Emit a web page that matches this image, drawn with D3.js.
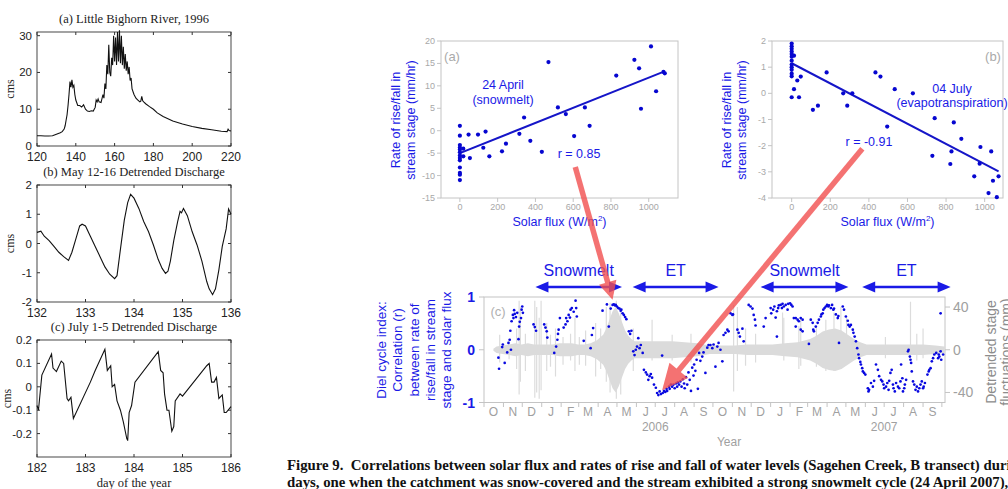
<!DOCTYPE html>
<html><head><meta charset="utf-8">
<script src="https://cdn.jsdelivr.net/npm/d3@7"></script>
<style>body{margin:0;background:#fff;} svg{display:block;}</style>
</head><body>
<svg id="c" width="1008" height="489"></svg>
<script>
// ---------- DATA ----------
// Left (a) Little Bighorn River 1996 discharge (cms)
const bhDay = [120,122,124,126,128,129,130,131,132,133,134,134.5,135,135.5,136,136.5,137,137.5,138,138.5,139,139.5,140,141,142,143,144,145,146,147,148,149,150,150.5,151,151.5,152,153,154,154.5,155,155.5,156,156.5,157,157.5,158,158.5,159,159.5,160,160.5,161,161.5,162,162.5,163,163.5,164,164.5,165,165.5,166,166.5,167,167.5,168,168.5,169,170,171,172,173,173.5,174,174.5,175,176,178,180,182,185,190,195,200,205,210,215,218,218.5,219,220];
const bhQ = [2.8,2.8,2.7,2.7,2.8,3.0,3.2,3.4,3.6,3.9,4.6,5.5,7,8.5,11,14,17.5,16,18,16,16.5,14,12.5,11,11,10.6,11.2,10,9.5,9.4,9.6,9.5,10.5,12.5,12,12.8,12,11.8,14,13,17,15.5,22,19.5,27.5,20,19,24,22,30,23,29.5,22,31,23,31.5,22.5,30,22,27,21,25,20.5,23,19.5,21.5,17.8,18.5,15.5,14,13,12.5,12,12.2,13.5,12.3,12,11.5,10.7,10,9,8,6.8,6,5.3,4.8,4.4,4.0,3.9,4.6,4.2,4.1];
// Left (b) May 12-16 detrended discharge
const mayDay = [132,132.08,132.15,132.25,132.35,132.45,132.55,132.65,132.72,132.8,132.88,132.93,133.0,133.1,133.2,133.3,133.4,133.5,133.6,133.65,133.72,133.8,133.87,133.93,134.0,134.1,134.2,134.3,134.4,134.5,134.58,134.65,134.7,134.75,134.82,134.9,134.95,134.98,135.02,135.1,135.2,135.3,135.4,135.5,135.55,135.62,135.68,135.75,135.82,135.9,135.95,136.0];
const mayQ = [0.38,0.42,0.25,0.1,-0.1,-0.3,-0.45,-0.58,-0.3,0.15,0.6,0.66,0.6,0.25,-0.1,-0.45,-0.8,-1.05,-1.2,-1.1,-0.2,0.8,1.4,1.68,1.55,1.2,0.75,0.4,-0.05,-0.55,-0.85,-1.02,-0.95,-0.6,0.1,0.75,1.1,1.05,1.2,0.95,0.4,-0.05,-0.6,-1.3,-1.55,-1.75,-1.55,-0.9,-0.1,0.5,1.18,1.0];
// Left (c) July 1-5 detrended discharge
const julDay = [182.0,182.03,182.1,182.3,182.33,182.4,182.5,182.55,182.62,182.65,182.7,182.75,183.1,183.2,183.4,183.45,183.52,183.55,183.6,183.65,183.72,183.78,183.85,183.87,183.9,183.95,184.02,184.5,184.55,184.6,184.63,184.68,184.72,184.78,184.82,184.85,184.95,185.0,185.5,185.55,185.6,185.65,185.7,185.75,185.82,185.86,185.9,186.0];
const julQ = [-0.08,-0.1,0.05,0.14,0.08,0.065,0.11,0.1,-0.05,-0.06,-0.045,-0.135,0.02,0.07,0.16,0.07,0.09,0.0,0.01,-0.06,-0.1,-0.15,-0.22,-0.23,-0.11,-0.08,0.02,0.15,0.07,0.06,-0.03,-0.1,-0.1,-0.19,-0.17,-0.06,-0.03,-0.04,0.09,0.1,0.02,0.02,0.04,-0.05,-0.035,-0.11,-0.11,-0.085];

// Scatter (a) 24 April (snowmelt)
const saX = [0,0,0,0,0,0,0,0,0,0,0,0,0,18,18,46,53,96,124,136,156,223,244,315,340,373,434,469,519,561,605,662,687,828,924,949,959,1012,1039,1078,1085];
const saY = [1.1,-1.1,-3.2,-3.75,-4.2,-4.8,-5.5,-6.1,-6.6,-8.2,-9.4,-9.8,-11.0,-4.0,-5.7,-0.85,-6.1,-0.85,-3.8,-0.2,-5.7,-4.6,-2.9,-0.7,2.95,-2.25,-4.7,15.3,5.2,3.7,-1.2,5.2,1.1,12.3,15.8,13.9,4.9,18.8,8.8,13.1,12.8];
const saFitX = [0,1070], saFitY = [-5,13];
const saYTicks = [20,15,10,5,0,-5,-10,-15];
// Scatter (b) 04 July (evapotranspiration)
const sbX = [0,0,0,0,0,0,0,0,0,0,0,0,12,0,12,29,47,38,110,136,181,267,288,314,434,460,495,534,628,729,741,828,822,840,879,946,978,974,1034,1043,1072,1020,1063];
const sbY = [1.9,1.8,1.7,1.6,1.5,1.4,1.25,1.1,1.0,0.9,0.75,0.65,1.44,-0.15,0.16,0.49,0.64,-0.15,-0.63,-0.47,0.8,0.0,-0.47,0.0,0.8,0.64,-1.27,0.16,0.0,-2.39,-0.95,-2.22,-2.7,-1.11,-1.74,-3.17,-2.05,-2.69,-2.22,-3.34,-3.17,-3.81,-3.97];
const sbFitX = [0,1072], sbFitY = [1.15,-2.98];
const sbYTicks = [2,1,0,-1,-2,-3,-4];
const fluxTicks = [0,200,400,600,800,1000];

// Panel (c): diel cycle index r, days since 2005-10-01
const rDay = [23,24,29,30,33,37,39,41,42,43,44,46,47,48,49,51,53,55,56,57,59,60,61,62,
  79,81,83,96,98,100,101,
  112,115,117,118,119,121,
  127,130,131,133,135,137,138,140,143,146,147,148,
  159,170,172,174,
  189,196,199,202,205,207,209,210,212,214,216,218,219,221,223,225,227,
  231,233,235,238,240,242,244,246,248,250,253,
  255,258,260,262,264,266,268,271,274,276,278,280,282,284,
  285,287,289,291,292,295,296,298,300,302,304,306,308,309,311,313,315,317,319,320,322,324,326,328,330,332,334,335,337,339,341,343,
  345,348,350,353,356,358,361,364,366,369,372,374,377,380,
  382,385,388,390,393,396,397,404,406,408,412,414,422,425,428,430,432,433,446,449,
  457,458,461,463,465,467,467,469,470,473,475,476,478,481,484,485,488,490,492,494,497,500,502,505,508,497,505,508,518,521,524,525,
  526,529,532,534,537,538,540,541,543,545,547,549,550,553,555,557,558,561,564,565,566,572,574,577,580,581,583,585,588,589,591,593,595,597,598,600,601,603,604,606,608,
  612,613,614,617,620,622,625,628,630,633,635,637,638,641,643,645,646,648,650,652,653,655,657,660,662,664,665,667,668,670,671,673,676,677,679,680,681,682,684,686,688,690,692,694,696,698,700,701,703,707,709,710,712,714,716,718,721,724,725,726,728,729,732,728];
const rVal = [-0.15,-0.36,0.05,0.1,-0.25,-0.05,0.13,0.19,0.36,0.0,0.54,0.66,0.6,0.75,0.68,0.62,0.7,0.2,0.44,0.53,0.6,0.76,0.82,0.7,
  0.48,0.43,0.36,0.48,0.42,0.35,0.23,
  -0.06,0.06,0.19,0.3,0.38,0.6,
  0.42,0.48,0.6,0.54,0.66,0.61,0.76,0.79,0.72,0.93,0.79,0.63,
  0.17,0.03,0.28,0.41,
  0.74,0.86,0.44,0.78,0.85,0.86,0.84,0.85,0.82,0.79,0.78,0.74,0.76,0.69,0.66,0.62,0.58,
  0.35,0.3,0.36,-0.03,-0.1,0.0,0.06,0.22,0.03,0.09,-0.06,
  -0.38,-0.43,-0.47,-0.57,-0.5,-0.46,-0.53,-0.66,-0.72,-0.82,-0.86,-0.79,-0.84,-0.11,
  -0.82,-0.78,-0.8,-0.74,-0.78,-0.7,-0.74,-0.66,-0.7,-0.66,-0.73,-0.64,-0.7,-0.62,-0.66,-0.6,-0.7,-0.56,-0.64,-0.73,-0.52,-0.66,-0.43,-0.57,-0.78,-0.34,-0.49,-0.28,-0.4,-0.19,-0.74,-0.06,
  -0.21,-0.13,-0.05,-0.44,0.04,0.09,0.09,0.03,0.1,-0.32,0.06,0.13,0.0,-0.22,
  0.28,0.32,0.38,0.35,0.69,0.66,0.67,0.38,0.32,0.25,0.4,0.16,0.85,0.82,0.78,0.66,0.57,0.46,0.44,0.6,
  0.79,0.69,0.76,0.82,0.61,0.25,0.73,0.79,0.84,0.85,0.79,0.87,0.82,0.85,0.76,0.87,0.88,0.85,0.82,0.6,0.6,0.57,0.54,0.6,0.57,0.44,0.38,0.35,0.11,0.57,0.51,0.38,
  0.35,0.44,0.51,0.57,0.63,0.67,0.69,0.76,0.79,0.82,0.85,0.82,0.84,0.79,0.85,0.76,0.78,0.67,0.6,0.64,0.13,0.82,0.76,0.63,0.55,0.47,0.44,0.47,0.38,0.32,0.25,0.16,0.03,-0.09,-0.16,-0.23,-0.28,-0.35,-0.41,-0.44,-0.47,
  -0.73,-0.79,-0.76,-0.63,-0.7,-0.59,-0.28,-0.38,-0.5,-0.57,-0.6,-0.66,-0.73,-0.7,-0.63,-0.76,-0.59,-0.44,-0.38,-0.66,-0.73,-0.79,-0.63,-0.7,-0.73,-0.6,-0.28,-0.54,-0.79,-0.73,-0.66,-0.57,-0.03,0.0,-0.13,-0.19,-0.25,-0.41,-0.6,-0.66,-0.76,-0.7,-0.79,-0.73,-0.66,-0.6,-0.73,-0.7,-0.63,-0.47,-0.41,-0.38,-0.35,-0.22,-0.16,-0.09,-0.06,-0.16,-0.09,-0.13,-0.03,-0.19,-0.09,0.69];
// Detrended stage fluctuation envelope (mm) and spikes [day, top, bottom]
const stageDay = [15,20,30,40,50,60,70,80,90,100,110,120,130,140,150,160,170,180,190,195,200,205,210,215,220,225,230,235,240,250,260,280,300,320,340,360,380,400,420,440,460,480,500,520,530,540,550,560,570,580,590,600,610,620,640,660,680,700,720,734];
const stageAmp = [1,3,4,5,6,5,6,5,5,5,5,6,6,6,5,5,6,9,14,20,28,36,40,34,26,18,13,10,8,8,8,8,8,7,6,4,4,4,5,5,5,6,7,10,13,17,19,20,18,14,10,7,5,5,5,5,5,5,4,3];
const stageSpikes = [[25,14,-12],[40,10,-9],[52,20,-18],[56,46,-42],[58,40,-30],[66,15,-20],[81,46,-45],[84,40,-40],[88,30,-46],[91,46,-38],[100,25,-20],[106,14,-16],[114,20,-25],[126,12,-14],[138,15,-10],[145,30,-20],[152,12,-14],[162,18,-15],[178,25,-25],[186,20,-18],[195,40,-30],[201,44,-40],[211,46,-46],[218,38,-42],[238,20,-20],[268,28,-10],[300,14,-10],[330,15,-12],[398,42,-39],[404,40,-20],[417,20,-15],[433,15,-12],[476,35,-5],[478,30,-10],[502,22,-18],[505,30,-15],[530,22,-16],[545,28,-20],[558,35,-20],[569,40,-15],[578,30,-12],[640,12,-8],[680,45,-3],[690,15,-10],[700,20,-8]];
const rTicks = [1,0,-1], mmTicks = [40,0,-40];
const seasonLabel = ["Snowmelt","ET","Snowmelt","ET"];
const seasonStart = [82,237,441,603];
const seasonEnd = [220,374,581,744];

// ---------- DRAWING ----------
const svg = d3.select('#c');
const SANS = "'Liberation Sans', Arial, Helvetica, sans-serif";
const SERIF = "'Liberation Serif', 'Times New Roman', serif";
const BLUE = '#1a1ae6';

function matlab(opt) {
  const g = svg.append('g');
  const x = d3.scaleLinear().domain(opt.xd).range([37, 231]);
  const y = d3.scaleLinear().domain(opt.yd).range([opt.y1, opt.y0]);
  g.append('text').attr('x', 134).attr('y', opt.y0 - 9).attr('text-anchor','middle')
    .attr('font-family', SERIF).attr('font-size', 12.5).attr('fill','#222').text(opt.title);
  g.append('rect').attr('x',37).attr('y',opt.y0).attr('width',194).attr('height',opt.y1-opt.y0)
    .attr('fill','none').attr('stroke','#333').attr('stroke-width',0.9);
  opt.xt.forEach(t => {
    g.append('line').attr('x1',x(t)).attr('x2',x(t)).attr('y1',opt.y1).attr('y2',opt.y1-3).attr('stroke','#333');
    g.append('line').attr('x1',x(t)).attr('x2',x(t)).attr('y1',opt.y0).attr('y2',opt.y0+3).attr('stroke','#333');
    g.append('text').attr('x',x(t)).attr('y',opt.y1+15).attr('text-anchor','middle')
      .attr('font-family',SANS).attr('font-size',12).attr('fill','#222').text(t);
  });
  opt.yt.forEach(t => {
    g.append('line').attr('x1',37).attr('x2',40).attr('y1',y(t)).attr('y2',y(t)).attr('stroke','#333');
    g.append('line').attr('x1',231).attr('x2',228).attr('y1',y(t)).attr('y2',y(t)).attr('stroke','#333');
    g.append('text').attr('x',32).attr('y',y(t)+4).attr('text-anchor','end')
      .attr('font-family',SANS).attr('font-size',11.5).attr('fill','#222').text(t);
  });
  g.append('text').attr('transform',`translate(${opt.cmsX},${(opt.y0+opt.y1)/2}) rotate(-90)`).attr('text-anchor','middle')
    .attr('font-family',SERIF).attr('font-size',12).attr('fill','#222').text('cms');
  const line = d3.line().x((d,i)=>x(opt.xs[i])).y((d,i)=>y(opt.ys[i]));
  g.append('path').attr('d', line(opt.xs)).attr('fill','none').attr('stroke','#111').attr('stroke-width',1.1);
  if (opt.xlabel) g.append('text').attr('x',134).attr('y',opt.y1+30).attr('text-anchor','middle')
    .attr('font-family',SERIF).attr('font-size',12.5).attr('fill','#222').text(opt.xlabel);
}
matlab({title:'(a) Little Bighorn River, 1996', xd:[120,220], yd:[0,31], y0:32, y1:146, cmsX:14,
  xt:[120,140,160,180,200,220], yt:[0,10,20,30], xs:bhDay, ys:bhQ});
matlab({title:'(b) May 12-16 Detrended Discharge', xd:[132,136], yd:[-2,2], y0:185, y1:302, cmsX:14,
  xt:[132,133,134,135,136], yt:[-2,-1,0,1,2], xs:mayDay, ys:mayQ});
matlab({title:'(c) July 1-5 Detrended Discharge', xd:[182,186], yd:[-0.3,0.2], y0:340, y1:457, cmsX:11,
  xt:[182,183,184,185,186], yt:[-0.2,-0.1,0,0.1,0.2], xs:julDay, ys:julQ, xlabel:'day of the year'});

// scatter panels
function scatter(opt) {
  const g = svg.append('g');
  const x = d3.scaleLinear().domain(opt.xd).range([opt.x0, opt.x1]);
  const y = d3.scaleLinear().domain(opt.yd).range([198, 41]);
  g.append('rect').attr('x',opt.x0).attr('y',41).attr('width',opt.x1-opt.x0).attr('height',157)
    .attr('fill','none').attr('stroke','#c4c4c4').attr('stroke-width',1);
  opt.yt.forEach(t => {
    g.append('line').attr('x1',opt.x0-4).attr('x2',opt.x0).attr('y1',y(t)).attr('y2',y(t)).attr('stroke','#c4c4c4');
    g.append('text').attr('x',opt.x0-6).attr('y',y(t)+3).attr('text-anchor','end')
      .attr('font-family',SANS).attr('font-size',9).attr('fill','#a8a8a8').text(t);
  });
  fluxTicks.forEach(t => {
    g.append('line').attr('x1',x(t)).attr('x2',x(t)).attr('y1',198).attr('y2',202).attr('stroke','#c4c4c4');
    g.append('text').attr('x',x(t)).attr('y',210).attr('text-anchor','middle')
      .attr('font-family',SANS).attr('font-size',9).attr('fill','#a8a8a8').text(t);
  });
  const lt = g.append('text').attr('x',(opt.x0+opt.x1)/2).attr('y',226).attr('text-anchor','middle')
    .attr('font-family',SANS).attr('font-size',12.5).attr('fill',BLUE);
  lt.append('tspan').text('Solar flux (W/m');
  lt.append('tspan').attr('font-size',8).attr('dy',-5).text('2');
  lt.append('tspan').attr('dy',5).text(')');
  const yt = g.append('text').attr('transform',`translate(${opt.x0-41},120) rotate(-90)`).attr('text-anchor','middle')
    .attr('font-family',SANS).attr('font-size',12.5).attr('fill',BLUE);
  yt.append('tspan').attr('x',0).attr('dy',0).text('Rate of rise/fall in');
  yt.append('tspan').attr('x',0).attr('dy',15).text('stream stage (mm/hr)');
  g.append('line').attr('x1',x(opt.fx[0])).attr('y1',y(opt.fy[0])).attr('x2',x(opt.fx[1])).attr('y2',y(opt.fy[1]))
    .attr('stroke','#1515c8').attr('stroke-width',2);
  g.selectAll('circle.p').data(opt.xs).enter().append('circle')
    .attr('cx',(d,i)=>x(opt.xs[i])).attr('cy',(d,i)=>y(opt.ys[i])).attr('r',2.1).attr('fill','#0606d0');
  g.append('text').attr('x',opt.tagX).attr('y',61).attr('text-anchor','middle')
    .attr('font-family',SANS).attr('font-size',13).attr('fill','#aaa').text(opt.tag);
  opt.notes.forEach(n => g.append('text').attr('x',n[0]).attr('y',n[1]).attr('text-anchor','middle')
    .attr('font-family',SANS).attr('font-size',12.5).attr('fill',BLUE).text(n[2]));
  return {x, y};
}
const sA = scatter({xd:[-100,1155], yd:[-15,20], x0:441, x1:678, yt:saYTicks, xs:saX, ys:saY, fx:saFitX, fy:saFitY,
  tag:'(a)', tagX:452, notes:[[503,89,'24 April'],[503,104,'(snowmelt)'],[579,158,'r = 0.85']]});
const sB = scatter({xd:[-102,1095], yd:[-4,2], x0:772, x1:1003, yt:sbYTicks, xs:sbX, ys:sbY, fx:sbFitX, fy:sbFitY,
  tag:'(b)', tagX:993, notes:[[952,93,'04 July'],[952,107,'(evapotranspiration)'],[869,146,'r = -0.91']]});

// Panel (c)
const cStart = new Date(2005, 9, 1);
const dayDate = d => d3.timeDay.offset(cStart, Math.floor(d));
const cx = d3.scaleTime().domain([cStart, new Date(2007, 9, 6)]).range([484, 945]);
const cyL = d3.scaleLinear().domain([-1, 1]).range([402.5, 297]);
const cyR = d3.scaleLinear().domain([-49.4, 49.4]).range([402.5, 297]);
const gc = svg.append('g');
gc.append('clipPath').attr('id','cclip').append('rect').attr('x',484).attr('y',297).attr('width',461).attr('height',105.5);
const band = d3.area().x((d,i)=>cx(dayDate(stageDay[i]))).y0((d,i)=>cyR(-stageAmp[i])).y1((d,i)=>cyR(stageAmp[i]));
const gg = gc.append('g').attr('clip-path','url(#cclip)');
gg.selectAll('line.sp').data(stageSpikes).enter().append('line')
  .attr('x1',d=>cx(dayDate(d[0]))).attr('x2',d=>cx(dayDate(d[0])))
  .attr('y1',d=>cyR(d[1])).attr('y2',d=>cyR(d[2])).attr('stroke','#dcdcdc').attr('stroke-width',1.2);
gg.append('path').attr('d', band(stageDay)).attr('fill','#dbdbdb');
gc.append('rect').attr('x',484).attr('y',297).attr('width',461).attr('height',105.5)
  .attr('fill','none').attr('stroke','#c4c4c4');
gc.selectAll('circle.r').data(rDay).enter().append('circle')
  .attr('cx',(d,i)=>cx(dayDate(rDay[i]))).attr('cy',(d,i)=>cyL(rVal[i])).attr('r',1.35).attr('fill','#0808e0');
// left axis
rTicks.forEach(t => {
  gc.append('line').attr('x1',479).attr('x2',484).attr('y1',cyL(t)).attr('y2',cyL(t)).attr('stroke','#c4c4c4');
  gc.append('text').attr('x',475).attr('y',cyL(t)+5).attr('text-anchor','end').attr('font-family',SANS)
    .attr('font-size',14).attr('font-weight','bold').attr('fill',BLUE).text(t);
});
mmTicks.forEach(t => {
  gc.append('line').attr('x1',945).attr('x2',950).attr('y1',cyR(t)).attr('y2',cyR(t)).attr('stroke','#c4c4c4');
  gc.append('text').attr('x',953).attr('y',cyR(t)+5).attr('text-anchor','start').attr('font-family',SANS)
    .attr('font-size',14).attr('fill','#a0a0a0').text(t);
});
// month ticks and labels (Oct 2005 .. Sep 2007)
const monthTicks = d3.timeMonth.range(cStart, new Date(2007, 9, 2));
monthTicks.forEach(m => {
  gc.append('line').attr('x1',cx(m)).attr('x2',cx(m)).attr('y1',402.5).attr('y2',407).attr('stroke','#c4c4c4');
});
d3.timeMonth.range(cStart, new Date(2007, 8, 2)).forEach(m => {
  gc.append('text').attr('x',cx(d3.timeDay.offset(m,15))).attr('y',416).attr('text-anchor','middle')
    .attr('font-family',SANS).attr('font-size',12).attr('fill','#a0a0a0').text('JFMAMJJASOND'[m.getMonth()]);
});
[2006, 2007].forEach(yr => gc.append('text').attr('x',cx(new Date(yr,6,1))).attr('y',431).attr('text-anchor','middle')
  .attr('font-family',SANS).attr('font-size',12).attr('fill','#a0a0a0').text(yr));
gc.append('text').attr('x',729).attr('y',446).attr('text-anchor','middle')
  .attr('font-family',SANS).attr('font-size',12).attr('fill','#a0a0a0').text('Year');
gc.append('text').attr('x',498).attr('y',316).attr('text-anchor','middle')
  .attr('font-family',SANS).attr('font-size',13).attr('fill','#b0b0b0').text('(c)');
// left title (5 lines)
const lt = gc.append('text').attr('transform','translate(386,350) rotate(-90)').attr('text-anchor','middle')
  .attr('font-family',SANS).attr('font-size',13.5).attr('fill',BLUE);
['Diel cycle index:','Correlation (r)','between rate of','rise/fall in stream','stage and solar flux']
  .forEach((s,i)=>lt.append('tspan').attr('x',0).attr('dy',i?16.3:0).text(s));
const rt = gc.append('text').attr('transform','translate(996,352) rotate(-90)').attr('text-anchor','middle')
  .attr('font-family',SANS).attr('font-size',14).attr('fill','#8c8c8c');
rt.append('tspan').attr('x',0).text('Detrended stage');
rt.append('tspan').attr('x',0).attr('dy',15).text('fluctuations (mm)');

// season arrows
function arrowHead(g, tip, ang, len, hw, color) {
  const bx = tip[0] - len*Math.cos(ang), by = tip[1] - len*Math.sin(ang);
  const px = -Math.sin(ang)*hw, py = Math.cos(ang)*hw;
  g.append('path').attr('d',`M${tip[0]},${tip[1]}L${bx+px},${by+py}L${bx-px},${by-py}Z`).attr('fill',color);
}
seasonLabel.forEach((lab,i) => {
  const a = cx(dayDate(seasonStart[i])), b = cx(dayDate(seasonEnd[i])), yy = 287;
  gc.append('line').attr('x1',a+10).attr('x2',b-10).attr('y1',yy).attr('y2',yy).attr('stroke',BLUE).attr('stroke-width',2.5);
  arrowHead(gc,[a,yy],Math.PI,13,5.5,BLUE);
  arrowHead(gc,[b,yy],0,13,5.5,BLUE);
  gc.append('text').attr('x',(a+b)/2).attr('y',276).attr('text-anchor','middle')
    .attr('font-family',SANS).attr('font-size',16).attr('fill',BLUE).text(lab);
});

// red arrows linking scatter panels to panel (c)
const redArrows = [
  {from:[sA.x(611), sA.y(-8.1)], to:[cx(dayDate(205)), cyL(0.95)], len:18, hw:9},
  {from:[sB.x(366), sB.y(-2.12)], to:[cx(dayDate(284)), cyL(-0.77)], len:26, hw:12}
];
const gr = svg.append('g').attr('opacity',0.8);
redArrows.forEach(a => {
  const ang = Math.atan2(a.to[1]-a.from[1], a.to[0]-a.from[0]);
  const ex = a.to[0]-a.len*Math.cos(ang)*0.9, ey = a.to[1]-a.len*Math.sin(ang)*0.9;
  gr.append('line').attr('x1',a.from[0]).attr('y1',a.from[1]).attr('x2',ex).attr('y2',ey)
    .attr('stroke','#f25050').attr('stroke-width',5.5);
  arrowHead(gr, a.to, ang, a.len, a.hw, '#f25050');
});

// caption
const cap = svg.append('text').attr('font-family',SERIF).attr('font-weight','bold').attr('font-size',14.8).attr('fill','#111');
cap.append('tspan').attr('x',287).attr('y',470).attr('xml:space','preserve')
  .text('Figure 9.  Correlations between solar flux and rates of rise and fall of water levels (Sagehen Creek, B transect) during two');
cap.append('tspan').attr('x',287).attr('y',487)
  .text('days, one when the catchment was snow-covered and the stream exhibited a strong snowmelt cycle (24 April 2007),');
</script></body></html>
